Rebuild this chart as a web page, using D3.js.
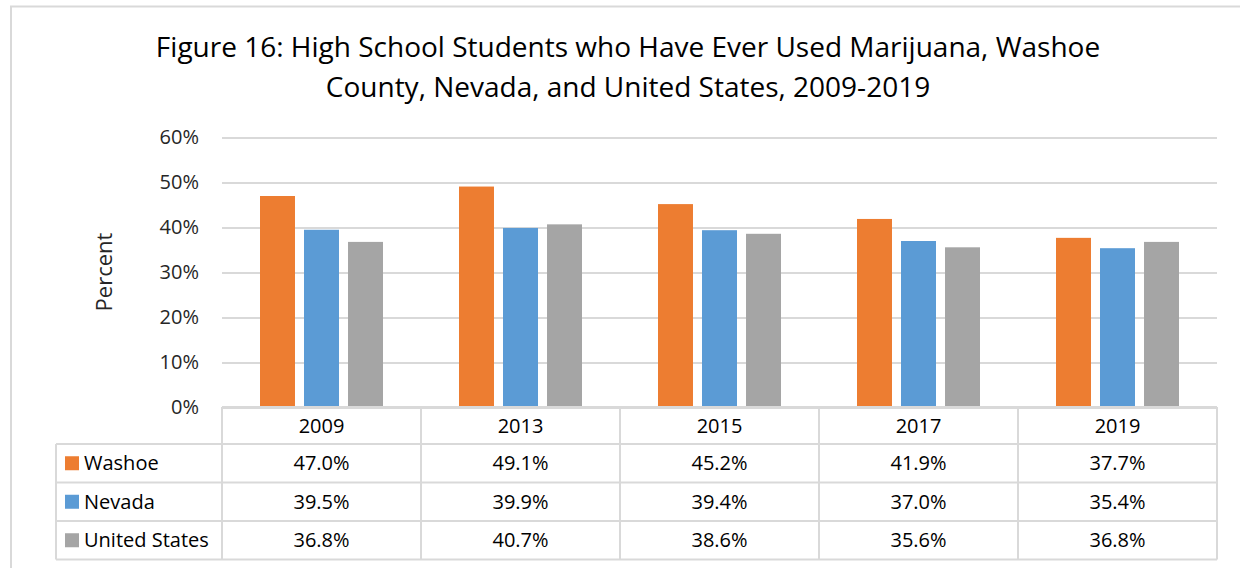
<!DOCTYPE html>
<html>
<head>
<meta charset="utf-8">
<script src="https://cdn.jsdelivr.net/npm/d3@7"></script>
<style>
    html, body { margin: 0; padding: 0; background: #fff; }
    svg { display: block; font-family: "Open Sans", sans-serif; }
</style>
</head>
<body>
<div id="chart"></div>
<script>
// Data
const years = ['2009', '2013', '2015', '2017', '2019'];
const seriesNames = ['Washoe', 'Nevada', 'United States'];
const washoe = [47.0, 49.1, 45.2, 41.9, 37.7];
const nevada = [39.5, 39.9, 39.4, 37.0, 35.4];
const unitedStates = [36.8, 40.7, 38.6, 35.6, 36.8];
const yTicks = [0, 10, 20, 30, 40, 50, 60];
const titleLines = [
    'Figure 16: High School Students who Have Ever Used Marijuana, Washoe',
    'County, Nevada, and United States, 2009-2019'
];

const seriesValues = [washoe, nevada, unitedStates];
const colors = ['#ED7D31', '#5B9BD5', '#A5A5A5'];

const width = 1240, height = 568;
const plot = { left: 222, right: 1217, top: 137.5, bottom: 407.5 };
const gridColor = '#D9D9D9';

const svg = d3.select('#chart').append('svg')
    .attr('width', width)
    .attr('height', height);

// Cadre du graphique
svg.append('rect')
    .attr('x', 11).attr('y', 6.5)
    .attr('width', width + 20).attr('height', height + 20)
    .attr('fill', 'none')
    .attr('stroke', gridColor)
    .attr('stroke-width', 2);

// Titre
svg.append('g').selectAll('text')
    .data(titleLines)
    .enter()
    .append('text')
    .attr('x', 628)
    .attr('y', (d, i) => 57 + i * 40)
    .attr('text-anchor', 'middle')
    .style('font-size', '28px')
    .style('fill', '#000')
    .text(d => d);

// Echelles
const x = d3.scaleBand()
    .domain(years)
    .range([plot.left, plot.right]);

const groupWidth = 123;
const xInner = d3.scaleBand()
    .domain(seriesNames)
    .range([0, groupWidth])
    .paddingInner(0.205);

const y = d3.scaleLinear()
    .domain([0, 60])
    .range([plot.bottom, plot.top]);

// Grille + axe Y
const yAxis = svg.append('g')
    .attr('transform', `translate(${plot.left},0)`)
    .call(d3.axisLeft(y)
        .tickValues(yTicks)
        .tickSize(-(plot.right - plot.left))
        .tickPadding(23)
        .tickFormat(d => d + '%'));

yAxis.select('.domain').remove();
yAxis.selectAll('line')
    .attr('stroke', gridColor)
    .attr('stroke-width', 2);
yAxis.selectAll('text')
    .style('font-size', '20px')
    .style('font-family', '"Open Sans", sans-serif')
    .style('fill', '#262626');

// Label Y
svg.append('text')
    .attr('transform', 'rotate(-90)')
    .attr('x', -272)
    .attr('y', 112)
    .attr('text-anchor', 'middle')
    .style('font-size', '22px')
    .style('fill', '#262626')
    .text('Percent');

// Barres
const barData = [];
seriesNames.forEach((name, s) => {
    years.forEach((year, i) => {
        barData.push({ name, year, value: seriesValues[s][i], color: colors[s] });
    });
});

const groupOffset = (x.bandwidth() - groupWidth) / 2;

svg.append('g').selectAll('rect')
    .data(barData)
    .enter()
    .append('rect')
    .attr('x', d => x(d.year) + groupOffset + xInner(d.name))
    .attr('y', d => y(d.value))
    .attr('width', xInner.bandwidth())
    .attr('height', d => y(0) - y(d.value))
    .attr('fill', d => d.color);

// Table de données
const table = { left: 56, top: 407, rowHeights: [37, 38.5, 38.5, 38.5] };
const rowTops = [table.top];
table.rowHeights.forEach(h => rowTops.push(rowTops[rowTops.length - 1] + h));
const tableBottom = rowTops[rowTops.length - 1];

const tg = svg.append('g')
    .attr('stroke', gridColor)
    .attr('stroke-width', 2);

// Lignes horizontales
rowTops.forEach((yy, i) => {
    tg.append('line')
        .attr('x1', i === 0 ? plot.left : table.left)
        .attr('x2', plot.right)
        .attr('y1', yy).attr('y2', yy);
});

// Lignes verticales
tg.append('line')
    .attr('x1', table.left).attr('x2', table.left)
    .attr('y1', rowTops[1]).attr('y2', tableBottom);
years.forEach(year => {
    tg.append('line')
        .attr('x1', x(year)).attr('x2', x(year))
        .attr('y1', table.top).attr('y2', tableBottom);
});
tg.append('line')
    .attr('x1', plot.right).attr('x2', plot.right)
    .attr('y1', table.top).attr('y2', tableBottom);

const rowCenter = i => (rowTops[i] + rowTops[i + 1]) / 2;

// En-têtes des années
svg.append('g').selectAll('text')
    .data(years)
    .enter()
    .append('text')
    .attr('x', d => x(d) + x.bandwidth() / 2)
    .attr('y', rowCenter(0))
    .attr('dy', '0.35em')
    .attr('text-anchor', 'middle')
    .style('font-size', '20px')
    .style('fill', '#000')
    .text(d => d);

// Légende + valeurs
seriesNames.forEach((name, s) => {
    const cy = rowCenter(s + 1);
    svg.append('rect')
        .attr('x', 65).attr('y', cy - 7)
        .attr('width', 14).attr('height', 14)
        .attr('fill', colors[s]);
    svg.append('text')
        .attr('x', 84).attr('y', cy)
        .attr('dy', '0.35em')
        .style('font-size', '20px')
        .style('fill', '#000')
        .text(name);
    svg.append('g').selectAll('text')
        .data(seriesValues[s])
        .enter()
        .append('text')
        .attr('x', (d, i) => x(years[i]) + x.bandwidth() / 2)
        .attr('y', cy)
        .attr('dy', '0.35em')
        .attr('text-anchor', 'middle')
        .style('font-size', '20px')
        .style('fill', '#000')
        .text(d => d.toFixed(1) + '%');
});
</script>
</body>
</html>
